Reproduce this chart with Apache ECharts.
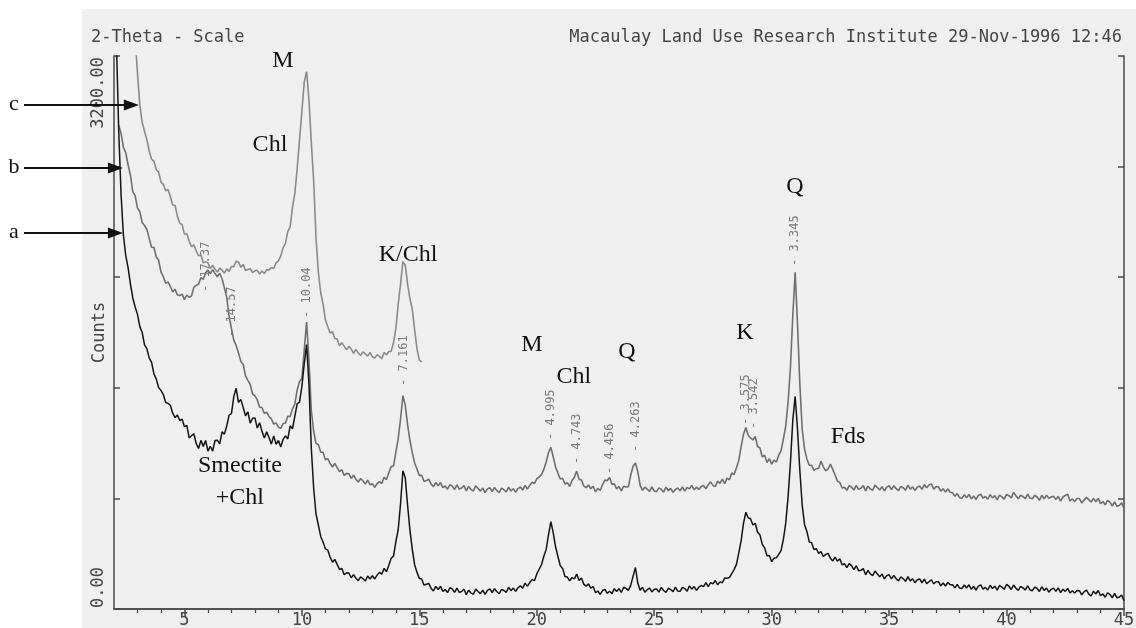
<!DOCTYPE html>
<html><head><meta charset="utf-8">
<script src="https://cdn.jsdelivr.net/npm/echarts@6/dist/echarts.min.js"></script>
<style>html,body{margin:0;padding:0;background:#fff}#c{width:1136px;height:628px}</style>
</head><body><div id="c"></div>
<script>
// ---- axes / ticks ----
const xMin = 2, xMax = 45;
const yMin = 0, yMax = 3200, yStep = 640;
const xMajorTicks = [5, 10, 15, 20, 25, 30, 35, 40, 45];
const xTopTicks = [5, 10, 15, 20, 25, 30, 35, 40];
const xMinorTicks = [3,4,6,7,8,9,11,12,13,14,16,17,18,19,21,22,23,24,26,27,28,29,31,32,33,34,36,37,38,39,41,42,43,44];
const yEndLabels = [[0, '0.00'], [3200, '3200.00']];
const yName = 'Counts';
const headerLeft = '2-Theta - Scale';
const headerRight = 'Macaulay Land Use Research Institute 29-Nov-1996 12:46';

// ---- series: counts sampled every 0.1 deg 2-theta ----
const sampleStep = 0.1;
const startA = 2.1;
const countsA = [
3300,2770,2400,2165,2045,1975,1880,1800,1748,1705,
1634,1600,1528,1507,1452,1427,1360,1330,1282,1265,
1241,1195,1190,1179,1133,1108,1122,1091,1098,1055,
1062,990,1003,1014,957,929,976,941,975,914,
942,914,975,977,956,1025,1012,1059,1122,1130,
1229,1277,1195,1213,1166,1118,1141,1076,1104,1106,
1047,1078,1028,990,1025,992,954,1002,953,975,
938,982,1002,984,1060,1043,1116,1188,1197,1290,
1420,1530,1300,930,700,550,486,420,388,348,
341,301,271,287,258,229,234,198,210,208,
181,199,178,164,186,175,162,191,174,192,
174,196,212,202,235,215,253,294,306,388,
460,610,800,760,600,455,345,255,212,176,
174,138,143,148,119,105,131,113,132,102,
113,95,123,116,96,121,96,101,114,83,
109,92,85,115,101,89,109,85,108,117,
95,118,100,89,114,107,96,126,106,121,
102,123,134,120,150,131,153,170,164,203,
230,256,305,345,430,505,440,360,304,250,
235,188,185,163,182,174,202,165,180,144,
132,146,121,130,94,104,84,107,114,91,
103,89,118,101,118,96,126,119,108,137,
190,240,150,108,126,97,112,121,99,114,
116,98,125,107,96,120,112,101,127,104,
102,125,118,103,134,115,130,108,126,136,
129,153,130,153,145,165,140,157,152,179,
178,182,205,228,258,325,396,495,560,528,
522,486,496,444,429,374,354,308,309,274,
294,296,316,338,404,498,652,850,1094,1230,
1040,800,600,488,449,388,384,344,349,321,
333,304,316,322,294,278,300,277,291,256,
262,240,263,251,228,250,222,224,234,198,
223,203,193,220,203,186,202,174,193,198,
174,195,175,163,186,175,160,187,163,175,
152,169,174,152,173,146,158,168,146,158,
158,134,150,133,154,140,140,122,142,121,
119,139,122,140,114,130,110,132,139,115,
125,110,137,119,132,109,136,127,114,142,
132,113,139,120,108,131,122,110,134,110,
106,127,119,101,129,108,121,97,114,121,
103,122,95,114,102,119,93,106,92,107,
106,82,99,110,86,75,103,87,107,77,
87,68,94,85,65,90,65,69,81,48
];
const startB = 2.2;
const countsB = [
2800,2752,2672,2640,2570,2510,2415,2392,2320,
2299,2236,2219,2196,2143,2093,2092,2037,2018,1950,
1923,1885,1893,1866,1834,1850,1817,1814,1822,1790,
1817,1804,1812,1862,1873,1879,1918,1908,1945,1961,
1941,1964,1941,1923,1943,1911,1858,1804,1694,1622,
1556,1525,1482,1433,1415,1349,1323,1299,1244,1233,
1210,1168,1166,1131,1139,1113,1100,1070,1077,1052,
1045,1073,1076,1115,1114,1158,1186,1269,1316,1336,
1500,1660,1440,1150,1030,958,952,908,907,863,
871,842,822,842,818,795,806,773,785,783,
756,774,751,735,755,741,723,746,719,725,
704,725,737,727,762,749,788,824,827,908,
985,1100,1235,1180,1065,975,905,845,810,772,
774,738,744,751,723,708,732,713,732,702,
712,693,719,711,692,718,694,700,714,684,
709,691,683,712,697,682,700,674,695,702,
680,703,685,674,699,690,677,705,683,696,
676,697,706,688,715,694,715,734,726,753,
765,778,808,851,905,935,880,822,785,752,
757,723,731,709,744,762,798,750,747,712,
702,718,696,710,678,698,686,719,746,743,
761,722,724,695,708,684,711,706,708,775,
826,845,795,715,686,705,694,681,706,683,
679,701,693,676,705,684,698,675,692,700,
684,706,682,704,695,715,690,705,692,709,
714,696,719,736,715,708,740,727,751,725,
757,748,787,778,816,860,940,1010,1050,1005,
990,978,998,940,932,880,890,848,870,838,
862,850,890,915,985,1060,1200,1400,1700,1948,
1650,1300,1040,925,868,832,832,802,812,815,
855,822,800,810,838,808,775,740,732,700,
705,687,714,706,688,715,692,699,714,684,
711,694,687,717,703,689,708,683,705,713,
691,714,696,685,710,701,688,716,694,707,
686,705,712,692,720,701,718,724,694,708,
707,682,696,677,694,676,673,652,668,644,
640,661,644,663,637,654,634,657,664,641,
651,635,662,643,656,632,659,649,636,663,
656,643,675,655,638,658,650,639,665,642,
638,658,648,629,658,637,659,641,648,653,
634,652,624,648,657,665,625,637,622,639,
639,614,630,646,633,619,640,621,640,610,
622,603,629,618,596,620,594,599,614,582
];
const startC = 2.9;
const countsC = [
3300,3100,
2914,2816,2764,2716,2649,2603,2592,2542,2528,2470,
2457,2420,2428,2386,2338,2335,2272,2233,2224,2169,
2171,2129,2097,2107,2073,2044,2048,2003,2010,2003,
1970,1989,1966,1950,1972,1961,1943,1968,1954,1982,
1981,2013,2007,1977,1994,1959,1965,1969,1946,1958,
1960,1938,1956,1941,1964,1962,1975,1970,2003,2014,
2042,2091,2116,2185,2211,2326,2406,2550,2716,2881,
3050,3110,2946,2700,2480,2150,1950,1830,1765,1672,
1635,1597,1604,1565,1563,1523,1541,1521,1500,1520,
1504,1480,1502,1481,1467,1488,1477,1463,1485,1459,
1452,1472,1462,1449,1484,1470,1490,1491,1542,1621,
1765,1880,2010,1990,1880,1795,1735,1615,1505,1440,
1430
];

// ---- peak d-spacing labels: [text, 2-theta, counts at label foot] ----
const peakLabels = [
  ['- 17.37', 5.9, 1834],
  ['- 14.57', 7.0, 1574],
  ['- 10.04', 10.2, 1684],
  ['- 7.161', 14.35, 1291],
  ['- 4.995', 20.6, 978],
  ['- 4.743', 21.7, 839],
  ['- 4.456', 23.1, 781],
  ['- 4.263', 24.2, 909],
  ['- 3.575', 28.9, 1065],
  ['- 3.542', 29.25, 1042],
  ['- 3.345', 31.0, 1985]
];
// ---- mineral annotations: [text, 2-theta, counts] ----
const annotations = [
  ['M', 9.19, 3171], ['Chl', 8.64, 2685], ['K/Chl', 14.52, 2049],
  ['Smectite', 7.36, 828], ['+Chl', 7.36, 642],
  ['M', 19.79, 1528], ['Chl', 21.58, 1343], ['Q', 23.84, 1487],
  ['K', 28.86, 1597], ['Q', 30.99, 2442], ['Fds', 33.25, 995]
];
// ---- trace arrows: [letter, 2-theta, counts at arrow tip] ----
const arrows = [['c', 3.06, 2917], ['b', 2.38, 2552], ['a', 2.38, 2176]];

const toPairs = (start, arr) => arr.map((v, i) => [+(start + i * sampleStep).toFixed(2), v]);

const MONO = '"DejaVu Sans Mono", monospace';
const SERIF = '"Liberation Serif", "DejaVu Serif", serif';
const frame = { show: true, lineStyle: { color: '#4a4a4a', width: 1.5 } };

const option = {
  animation: false,
  backgroundColor: 'transparent',
  grid: { left: 114, right: 12, top: 56, bottom: 19, containLabel: false, outerBoundsMode: 'none' },
  xAxis: [
    { type: 'value', position: 'bottom', min: xMin, max: xMax,
      axisLine: frame,
      axisTick: { show: true, inside: false, length: 7, customValues: xMajorTicks, lineStyle: { color: '#4a4a4a', width: 1.5 } },
      axisLabel: { show: true, customValues: xMajorTicks, margin: 3, fontFamily: MONO, fontSize: 17, color: '#444' },
      splitLine: { show: false } },
    { type: 'value', position: 'top', min: xMin, max: xMax,
      axisLine: frame,
      axisTick: { show: true, inside: true, length: 6, customValues: xTopTicks, lineStyle: { color: '#4a4a4a', width: 1.5 } },
      axisLabel: { show: false }, splitLine: { show: false } },
    { type: 'value', position: 'bottom', min: xMin, max: xMax,
      axisLine: { show: false },
      axisTick: { show: true, inside: false, length: 4, customValues: xMinorTicks, lineStyle: { color: '#4a4a4a', width: 1.2 } },
      axisLabel: { show: false }, splitLine: { show: false } }
  ],
  yAxis: [
    { type: 'value', position: 'left', min: yMin, max: yMax, interval: yStep,
      axisLine: frame,
      axisTick: { show: true, inside: true, length: 6, lineStyle: { color: '#4a4a4a', width: 1.5 } },
      axisLabel: { show: false }, splitLine: { show: false },
      name: yName, nameLocation: 'middle', nameGap: 6,
      nameTextStyle: { fontFamily: MONO, fontSize: 17, color: '#444' } },
    { type: 'value', position: 'right', min: yMin, max: yMax, interval: yStep,
      axisLine: frame,
      axisTick: { show: true, inside: true, length: 6, lineStyle: { color: '#4a4a4a', width: 1.5 } },
      axisLabel: { show: false }, splitLine: { show: false } }
  ],
  series: [
    { name: 'c', type: 'line', data: toPairs(startC, countsC), showSymbol: false, z: 3,
      lineStyle: { color: '#8a8a8a', width: 1.6 } },
    { name: 'b', type: 'line', data: toPairs(startB, countsB), showSymbol: false, z: 4,
      lineStyle: { color: '#6e6e6e', width: 1.6 } },
    { name: 'a', type: 'line', data: toPairs(startA, countsA), showSymbol: false, z: 5,
      lineStyle: { color: '#141414', width: 1.5 } }
  ]
};

const chart = echarts.init(document.getElementById('c'), null, { renderer: 'canvas' });
chart.setOption(option);

const px = (x, y) => chart.convertToPixel({ gridIndex: 0 }, [x, y]);
const g = [];
g.push({ type: 'rect', z: -10, silent: true, shape: { x: 82, y: 9, width: 1136 - 82, height: 628 - 9 }, style: { fill: '#efefef' } });
g.push({ type: 'text', x: 91, y: 38, style: { text: headerLeft, font: '17px ' + MONO, fill: '#444', align: 'left', verticalAlign: 'middle' } });
g.push({ type: 'text', x: 1122, y: 38, style: { text: headerRight, font: '17px ' + MONO, fill: '#444', align: 'right', verticalAlign: 'middle' } });
yEndLabels.forEach(([v, t]) => {
  const p = px(xMin, v);
  const isTop = v === yMax;
  g.push({ type: 'text', x: 99, y: isTop ? p[1] + 1 : p[1] - 1, rotation: Math.PI / 2,
    style: { text: t, font: '17px ' + MONO, fill: '#444', align: isTop ? 'right' : 'left', verticalAlign: 'middle' } });
});
peakLabels.forEach(([t, x, y]) => {
  const p = px(x, y);
  g.push({ type: 'text', x: p[0], y: p[1], rotation: Math.PI / 2, z: 6,
    style: { text: t, font: '12px ' + MONO, fill: '#7a7a7a', align: 'left', verticalAlign: 'middle' } });
});
annotations.forEach(([t, x, y]) => {
  const p = px(x, y);
  g.push({ type: 'text', x: p[0], y: p[1], z: 6,
    style: { text: t, font: '24px ' + SERIF, fill: '#111', align: 'center', verticalAlign: 'middle' } });
});
arrows.forEach(([t, x, y]) => {
  const p = px(x, y);
  g.push({ type: 'text', x: 14, y: p[1] - 1, style: { text: t, font: '22px ' + SERIF, fill: '#111', align: 'center', verticalAlign: 'middle' } });
  g.push({ type: 'line', z: 7, shape: { x1: 24, y1: p[1], x2: p[0] - 10, y2: p[1] }, style: { stroke: '#111', lineWidth: 2 } });
  g.push({ type: 'polygon', z: 7, shape: { points: [[p[0], p[1]], [p[0] - 15, p[1] - 5.5], [p[0] - 15, p[1] + 5.5]] }, style: { fill: '#111' } });
});
chart.setOption({ graphic: g });
</script>
</body></html>
